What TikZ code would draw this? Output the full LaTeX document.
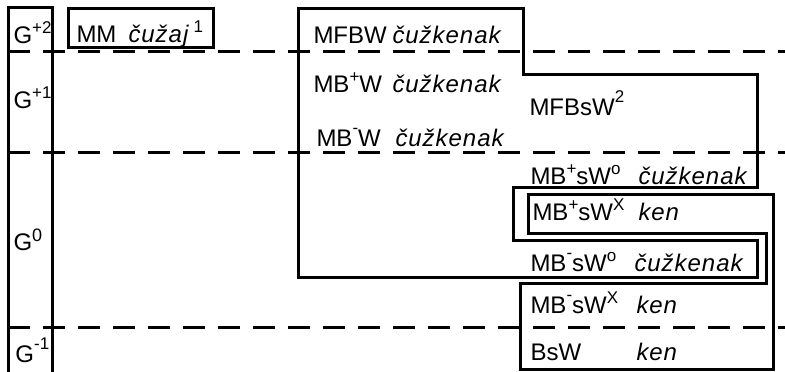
\documentclass[tikz,border=0pt]{standalone}
\usepackage{fontspec}
\setmainfont{Liberation Sans}[ItalicFeatures={LetterSpace=4}]
\newcommand\sups[1]{\raisebox{10pt}{\fontsize{17}{17}\selectfont #1}}
\newcommand\supm[1]{\raisebox{13pt}{\fontsize{17}{17}\selectfont #1}}
\tikzset{
  lbl/.style={anchor=base west, inner sep=0pt, font=\fontsize{24}{24}\selectfont},
  itl/.style={anchor=base west, inner sep=0pt, font=\fontsize{24}{24}\selectfont\itshape},
  levelline/.style={dash pattern=on 22pt off 13pt},
  frame/.style={line join=miter}
}
\begin{document}
\begin{tikzpicture}[x=1pt,y=-1pt,line width=3pt]
\useasboundingbox (0,0) rectangle (785,372);
% level column
\draw[frame] (8,372) -- (8,7) -- (52,7) -- (52,372);
% dashed level lines
\draw[levelline] (8,51) -- (785,51);
\draw[levelline] (8,152) -- (785,152);
\draw[levelline] (8,327) -- (785,327);
% MM box
\draw[frame] (68,8) rectangle (213,47);
% cuzkenak region
\draw[frame] (298,8) -- (523,8) -- (523,74) -- (757,74) -- (757,187) -- (513,187)
  -- (513,240) -- (757,240) -- (757,277) -- (298,277) -- cycle;
% ken region
\draw[frame] (528,194) -- (773,194) -- (773,369) -- (520,369) -- (520,283)
  -- (766,283) -- (766,233) -- (528,233) -- cycle;
% level labels
\node[lbl] (g2) at (12,43) {G\sups{+2}};
\node[lbl] (g1) at (12,108) {G\sups{+1}};
\node[lbl] (g0) at (12,250) {G\raisebox{9pt}{\fontsize{18}{18}\selectfont 0}};
\node[lbl] (gm1) at (14,362) {G\supm{-1}};
% texts
\node[lbl] (mm) at (75,42) {MM};
\node[itl] (mmit) at (127,42) {čužaj};
\node[lbl] (mmone) at (192,42) {\sups{1}};
\node[lbl] (mfbw) at (312,43) {MFBW};
\node[itl] (mfbwit) at (391,43) {čužkenak};
\node[lbl] (mbpw) at (312,92) {MB\sups{+}W};
\node[itl] (mbpwit) at (391,92) {čužkenak};
\node[lbl] (mbmw) at (315,146) {MB\supm{-}W};
\node[itl] (mbmwit) at (394,146) {čužkenak};
\node[lbl] (mfbsw) at (528,115) {MFBsW\supm{2}};
\node[lbl] (mbpsw) at (529,184) {MB\sups{+}sW\sups{o}};
\node[itl] (mbpswit) at (637,184) {čužkenak};
\node[lbl] (mbpswx) at (531,220) {MB\sups{+}sW\sups{X}};
\node[itl] (mbpswxit) at (637,220) {ken};
\node[lbl] (mbmsw) at (529,271) {MB\supm{-}sW\sups{o}};
\node[itl] (mbmswit) at (633,271) {čužkenak};
\node[lbl] (mbmswx) at (529,313) {MB\supm{-}sW\sups{X}};
\node[itl] (mbmswxit) at (635,313) {ken};
\node[lbl] (bsw) at (529,360) {BsW};
\node[itl] (bswit) at (635,360) {ken};
\end{tikzpicture}
\end{document}
